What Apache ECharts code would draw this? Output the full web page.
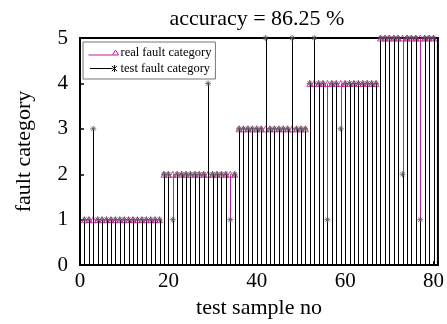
<!DOCTYPE html>
<html>
<head>
<meta charset="utf-8">
<script src="https://cdn.jsdelivr.net/npm/echarts@6/dist/echarts.min.js"></script>
<style>
  html, body { margin: 0; padding: 0; background: #fff; }
  #main { width: 447px; height: 324px; }
</style>
</head>
<body>
<div id="main"></div>
<script>
    // sample numbers 1..80
    var samples = [
        1, 2, 3, 4, 5, 6, 7, 8, 9, 10, 11, 12, 13, 14, 15, 16, 17, 18, 19, 20,
        21, 22, 23, 24, 25, 26, 27, 28, 29, 30, 31, 32, 33, 34, 35, 36, 37, 38, 39, 40,
        41, 42, 43, 44, 45, 46, 47, 48, 49, 50, 51, 52, 53, 54, 55, 56, 57, 58, 59, 60,
        61, 62, 63, 64, 65, 66, 67, 68, 69, 70, 71, 72, 73, 74, 75, 76, 77, 78, 79, 80
    ];
    var realCategory = [
        1, 1, 1, 1, 1, 1, 1, 1, 1, 1, 1, 1, 1, 1, 1, 1, 1, 1, 2, 2,
        2, 2, 2, 2, 2, 2, 2, 2, 2, 2, 2, 2, 2, 2, 2, 3, 3, 3, 3, 3,
        3, 3, 3, 3, 3, 3, 3, 3, 3, 3, 3, 4, 4, 4, 4, 4, 4, 4, 4, 4,
        4, 4, 4, 4, 4, 4, 4, 5, 5, 5, 5, 5, 5, 5, 5, 5, 5, 5, 5, 5
    ];
    var testCategory = [
        1, 1, 3, 1, 1, 1, 1, 1, 1, 1, 1, 1, 1, 1, 1, 1, 1, 1, 2, 2,
        1, 2, 2, 2, 2, 2, 2, 2, 4, 2, 2, 2, 2, 1, 2, 3, 3, 3, 3, 3,
        3, 5, 3, 3, 3, 3, 3, 5, 3, 3, 3, 4, 5, 4, 4, 1, 4, 4, 3, 4,
        4, 4, 4, 4, 4, 4, 4, 5, 5, 5, 5, 5, 2, 5, 5, 5, 1, 5, 5, 5
    ];
    var xTicks = [0, 20, 40, 60, 80];
    var yTicks = [0, 1, 2, 3, 4, 5];

    var realColor = '#c8189a';
    var testColor = '#000';
    var font = 'Liberation Serif';

    function pairs(ys) {
        return samples.map(function (x, i) { return [x, ys[i]]; });
    }

    function stem(color) {
        return function (params, api) {
            var x = api.value(0), y = api.value(1);
            var p0 = api.coord([x, 0]);
            var p1 = api.coord([x, y]);
            var px = Math.round(p0[0]) + 0.5;
            return {
                type: 'line',
                shape: { x1: px, y1: p0[1], x2: px, y2: p1[1] },
                style: { stroke: color, lineWidth: 1 }
            };
        };
    }

    var starPath = 'path://M5,0L5,10M0,5L10,5M1.5,1.5L8.5,8.5M1.5,8.5L8.5,1.5';

    var myChart = echarts.init(document.getElementById('main'));

    var option = {
        animation: false,
        backgroundColor: '#fff',
        title: {
            text: 'accuracy = 86.25 %',
            left: 252,
            top: 3,
            textAlign: 'center',
            textStyle: { fontFamily: font, fontSize: 22, fontWeight: 'normal', color: '#000' }
        },
        legend: {
            orient: 'vertical',
            left: 83,
            top: 42,
            padding: [4, 4, 4, 3],
            itemGap: 3,
            itemWidth: 30,
            itemHeight: 7,
            backgroundColor: '#fff',
            borderColor: '#777',
            borderWidth: 1,
            borderRadius: 0,
            textStyle: { fontFamily: font, fontSize: 12.5, color: '#000', padding: [0, 0, 0, -3] },
            data: [
                {
                    name: 'real fault category',
                    icon: 'path://M0,7L24,7M24,7L27,2L30,7Z',
                    itemStyle: { color: 'none', borderColor: realColor, borderWidth: 1 }
                },
                {
                    name: 'test fault category',
                    icon: 'path://M0,4L26,4M25,1L31,7M25,7L31,1M28,0L28,8',
                    itemStyle: { color: 'none', borderColor: testColor, borderWidth: 1 }
                }
            ]
        },
        grid: {
            left: 80,
            right: 9,
            top: 38,
            bottom: 57,
            show: true,
            borderColor: '#000',
            borderWidth: 2
        },
        xAxis: {
            type: 'value',
            min: 0,
            max: 81,
            interval: 20,
            name: 'test sample no',
            nameLocation: 'middle',
            nameGap: 28,
            nameTextStyle: { fontFamily: font, fontSize: 22, color: '#000' },
            axisLine: { show: true, lineStyle: { color: '#000', width: 2 } },
            axisTick: { show: true, inside: true, length: 4, lineStyle: { color: '#000', width: 1 } },
            axisLabel: {
                fontFamily: font, fontSize: 21, color: '#000', margin: 6,
                formatter: function (v) { return xTicks.indexOf(v) >= 0 ? String(v) : ''; }
            },
            splitLine: { show: false }
        },
        yAxis: {
            type: 'value',
            min: 0,
            max: 5,
            interval: 1,
            name: 'fault category',
            nameLocation: 'middle',
            nameGap: 45,
            nameTextStyle: { fontFamily: font, fontSize: 22, color: '#000' },
            axisLine: { show: true, lineStyle: { color: '#000', width: 2 } },
            axisTick: { show: true, inside: true, length: 4, lineStyle: { color: '#000', width: 1.5 } },
            axisLabel: {
                fontFamily: font, fontSize: 21, color: '#000', margin: 12,
                formatter: function (v) { return yTicks.indexOf(v) >= 0 ? String(v) : ''; }
            },
            splitLine: { show: false }
        },
        series: [
            {
                name: 'real fault category',
                type: 'custom',
                renderItem: stem(realColor),
                data: pairs(realCategory),
                z: 2
            },
            {
                name: 'real fault category',
                type: 'scatter',
                symbol: 'triangle',
                symbolSize: 6,
                itemStyle: { color: 'none', borderColor: realColor, borderWidth: 1 },
                data: pairs(realCategory),
                z: 3
            },
            {
                name: 'test fault category',
                type: 'custom',
                renderItem: stem(testColor),
                data: pairs(testCategory),
                z: 4
            },
            {
                name: 'test fault category',
                type: 'scatter',
                symbol: starPath,
                symbolSize: 6,
                itemStyle: { color: 'none', borderColor: '#555', borderWidth: 1 },
                data: pairs(testCategory),
                z: 5
            }
        ]
    };
    myChart.setOption(option);
</script>
</body>
</html>
